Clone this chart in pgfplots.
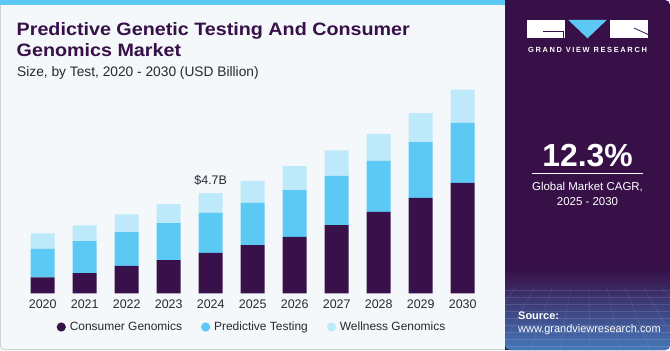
\documentclass[border=0pt]{standalone}
\usepackage{fontspec}
\setmainfont{Liberation Sans}
\newfontfamily\spaced[LetterSpace=22]{Liberation Sans}
\newfontfamily\titlefont[FakeStretch=1.1]{Liberation Sans}
\usepackage{pgfplots}
\pgfplotsset{compat=1.18}
\definecolor{cg}{RGB}{57,17,74}
\definecolor{pt}{RGB}{92,201,245}
\definecolor{wg}{RGB}{190,233,250}
\definecolor{panel}{RGB}{55,16,72}
\definecolor{bg}{RGB}{244,248,251}
\definecolor{titlec}{RGB}{55,16,72}
\definecolor{txt}{RGB}{40,40,50}
\definecolor{panelblue}{RGB}{70,120,185}
\begin{document}
\begin{tikzpicture}[x=1bp,y=1bp]
\fill[bg] (0,0) rectangle (670,350);
\draw[gray!35, line width=0.8bp, rounded corners=4bp] (0.4,0.4) rectangle (512,349.6);
\fill[pt] (0,345) rectangle (510,350);
% panel
\fill[panel, rounded corners=5bp] (505,0) rectangle (670,350);
\fill[panel] (505,0) rectangle (520,350);
\begin{scope}
\clip[rounded corners=5bp] (505,0) rectangle (670,350);
\shade[top color=panel, bottom color=panelblue] (505,0) rectangle (670,80);
\foreach \yy in {4,11,18,25,32,39,46,53,60} \draw[white, opacity=0.12, line width=0.4bp] (505,\yy) -- (670,\yy);
\clip (505,0) rectangle (670,62);
\foreach \xx in {-400,-370,...,1000} \draw[white, opacity=0.12, line width=0.4bp] (587,160) -- (\xx,0);
\end{scope}
% logo
\fill[white] (527,312) rectangle (565,330);
\draw[panel, line width=0.9bp] (543,318.5) -- (563,318.5) -- (563,312);
\fill[pt] (568.3,330) -- (606.7,330) -- (587.5,311.7) -- cycle;
\fill[white] (610,312) rectangle (648,330);
\draw[panel, line width=0.8bp] (634,322) -- (648,315.5);
\node[anchor=base, inner sep=0, text=white, font=\fontsize{7.5}{9}\selectfont\bfseries\spaced] at (587.5,297.5) {GRAND VIEW RESEARCH};
\node[anchor=base, inner sep=0, text=white, font=\fontsize{32}{36}\selectfont\bfseries] at (587.5,183.5) {12.3\%};
\draw[white, line width=0.8bp] (532,176.5) -- (643,176.5);
\node[anchor=base, inner sep=0, text=white, font=\fontsize{11.5}{13}\selectfont] at (587.5,160) {Global Market CAGR,};
\node[anchor=base, inner sep=0, text=white, font=\fontsize{11.5}{13}\selectfont] at (587.5,145) {2025 - 2030};
\node[anchor=base west, inner sep=0, text=white, font=\fontsize{11}{13}\selectfont\bfseries] at (518,30.5) {Source:};
\node[anchor=base west, inner sep=0, text=white, font=\fontsize{11}{13}\selectfont] at (518,17.5) {www.grandviewresearch.com};
% titles
\node[anchor=base west, inner sep=0, text=titlec, font=\fontsize{18}{21}\selectfont\titlefont\bfseries] at (16.5,315) {Predictive Genetic Testing And Consumer};
\node[anchor=base west, inner sep=0, text=titlec, font=\fontsize{18}{21}\selectfont\titlefont\bfseries] at (16.5,293.5) {Genomics Market};
\node[anchor=base west, inner sep=0, text=txt, font=\fontsize{13.8}{16}\selectfont] at (17,274) {Size, by Test, 2020 - 2030 (USD Billion)};
\begin{axis}[
  at={(0.7bp,56.7bp)}, anchor=south west,
  scale only axis, width=504bp, height=213.4bp,
  xmin=-1, xmax=11, ymin=0, ymax=10,
  ybar stacked, bar width=24bp,
  axis line style={draw=none}, axis background/.style={fill=none},
  ytick=\empty,
  xtick={0,...,10},
  xticklabels={2020,2021,2022,2023,2024,2025,2026,2027,2028,2029,2030},
  major tick length=0pt,
  /pgf/number format/assume math mode=true,
  xticklabel style={anchor=base, inner sep=0pt, yshift=-15bp, text=txt, font=\fontsize{12.5}{14}\selectfont},
  legend columns=3,
  legend image code/.code={\fill[#1] (0bp,0bp) circle (4.6bp); \path (6.5bp,0bp);},
  legend style={at={(0.4986,-0.158)}, anchor=center, draw=none, fill=none,
    font=\fontsize{12}{14}\selectfont, text=txt,
    /tikz/every even column/.append style={column sep=17bp},
    /tikz/every odd column/.append style={column sep=0bp}},
  clip=false,
]
\addplot[fill=cg, draw=none] coordinates {(0,0.75) (1,0.94) (2,1.28) (3,1.56) (4,1.89) (5,2.26) (6,2.65) (7,3.20) (8,3.81) (9,4.47) (10,5.18)};
\addplot[fill=pt, draw=none] coordinates {(0,1.33) (1,1.51) (2,1.59) (3,1.73) (4,1.89) (5,1.98) (6,2.19) (7,2.30) (8,2.40) (9,2.61) (10,2.81)};
\addplot[fill=wg, draw=none] coordinates {(0,0.73) (1,0.73) (2,0.83) (3,0.89) (4,0.92) (5,1.03) (6,1.12) (7,1.20) (8,1.26) (9,1.36) (10,1.56)};
\legend{Consumer Genomics, Predictive Testing, Wellness Genomics}
\node[anchor=base, inner sep=0, text=txt, font=\fontsize{12.5}{14}\selectfont] at (axis cs:4,5.12) {\$4.7B};
\end{axis}
\end{tikzpicture}
\end{document}
